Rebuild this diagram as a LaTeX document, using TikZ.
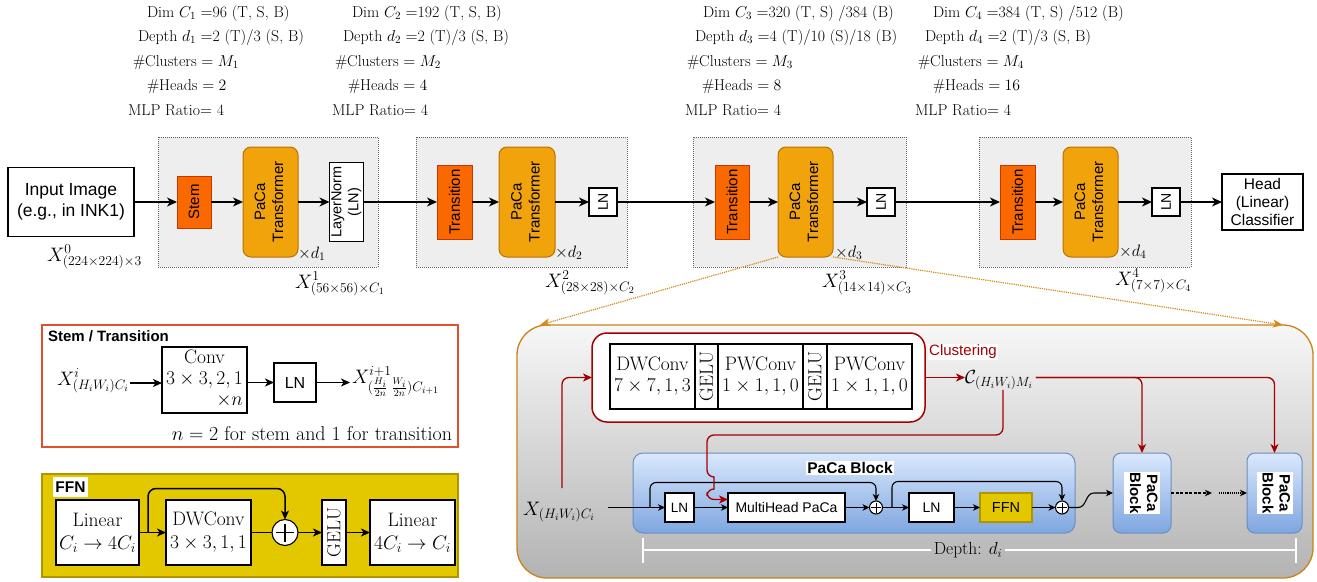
\documentclass[tikz,border=0pt]{standalone}
\usepackage{fix-cm}
\usepackage{fontspec}
\setsansfont{Liberation Sans}
\usepackage{graphicx}
\usetikzlibrary{arrows.meta,calc}

\definecolor{stemor}{HTML}{FA6800}
\definecolor{stembd}{HTML}{C73500}
\definecolor{pacaor}{HTML}{F0A30A}
\definecolor{pacabd}{HTML}{BD7000}
\definecolor{stagebg}{HTML}{EEEEEE}
\definecolor{stagebd}{HTML}{666666}
\definecolor{ffny}{HTML}{E3C800}
\definecolor{ffnbd}{HTML}{B09500}
\definecolor{clred}{HTML}{A50000}
\definecolor{stbd}{HTML}{E0502A}
\definecolor{panelbd}{HTML}{CC8218}
\definecolor{dotor}{HTML}{D58B16}
\definecolor{pantop}{HTML}{F7F7F7}
\definecolor{panbot}{HTML}{B3B3B3}
\definecolor{bltop}{HTML}{DAE8FC}
\definecolor{blbot}{HTML}{7EA6E0}
\definecolor{blbd}{HTML}{6C8EBF}

\newcommand\fsz[2]{\fontsize{#1}{#2}\selectfont}
\newcommand\vtext[1]{\rotatebox{90}{\begin{tabular}{@{}c@{}}#1\end{tabular}}}
\newcommand\vtextcw[1]{\rotatebox{-90}{\setlength\fboxsep{1pt}\colorbox{white}{\begin{tabular}{@{}c@{}}#1\end{tabular}}}}

\begin{document}
\begin{tikzpicture}[x=1pt,y=-1pt]
\tikzset{
  every node/.style={inner sep=0pt,outer sep=0pt},
  toptxt/.style={anchor=base west,font=\fsz{15.8}{19}},
  mathlbl/.style={anchor=base west,font=\fsz{19.5}{23}},
  timeslbl/.style={anchor=base west,font=\fsz{16.5}{19}},
  wbox/.style={draw=black,fill=white,line width=1.1pt},
  stagebox/.style={draw=stagebd,fill=stagebg,densely dotted,line width=1pt},
  stemblk/.style={draw=stembd,fill=stemor,line width=1pt,font=\sffamily\fsz{15}{18}},
  pacablk/.style={draw=pacabd,fill=pacaor,line width=1pt,rounded corners=8pt,font=\sffamily\fsz{15}{18}},
  arr/.style={line width=1.2pt,-{Stealth[length=10pt,width=9pt,inset=3pt]}},
  arrb/.style={line width=1.5pt,-{Stealth[length=9pt,width=8pt,inset=2.5pt]}},
  arrs/.style={line width=1.1pt,-{Stealth[length=7pt,width=6.5pt,inset=2pt]}},
  redarr/.style={draw=clred,line width=1.3pt,rounded corners=7pt,-{Stealth[length=9pt,width=8pt,inset=2.5pt]}},
  cell/.style={wbox,minimum height=65,align=center,font=\fsz{19.5}{21}},
  fcell/.style={wbox,minimum height=65,align=center,font=\fsz{19.5}{23}},
  bluebox/.style={draw=blbd,line width=1pt,top color=bltop,bottom color=blbot},
  plusnode/.style={circle,draw=black,fill=white,line width=1.1pt},
}
\useasboundingbox (0,0) rectangle (1317,581);

% ---------------- stage settings ----------------
\node[toptxt] (a1) at (147,17) {Dim $C_1 = $96 (T, S, B)};
\node[toptxt] (a2) at (138,41) {Depth $d_1 = $2 (T)/3 (S, B)};
\node[toptxt] (a3) at (133,66) {\#Clusters $= M_1$};
\node[toptxt] (a4) at (147,90) {\#Heads $= 2$};
\node[toptxt] (a5) at (128,115) {MLP Ratio$=$ 4};

\node[toptxt] (b1) at (352,17) {Dim $C_2 = $192 (T, S, B)};
\node[toptxt] (b2) at (343,41) {Depth $d_2 = $2 (T)/3 (S, B)};
\node[toptxt] (b3) at (335,66) {\#Clusters $= M_2$};
\node[toptxt] (b4) at (348,90) {\#Heads $= 4$};
\node[toptxt] (b5) at (332,115) {MLP Ratio$=$ 4};

\node[toptxt] (c1) at (703,17) {Dim $C_3 = $320 (T, S) /384 (B)};
\node[toptxt] (c2) at (695,41) {Depth $d_3 = $4 (T)/10 (S)/18 (B)};
\node[toptxt] (c3) at (687,66) {\#Clusters $= M_3$};
\node[toptxt] (c4) at (702,90) {\#Heads $= 8$};
\node[toptxt] (c5) at (685,115) {MLP Ratio$=$ 4};

\node[toptxt] (d1) at (933,17) {Dim $C_4 = $384 (T, S) /512 (B)};
\node[toptxt] (d2) at (925,41) {Depth $d_4 = $2 (T)/3 (S, B)};
\node[toptxt] (d3) at (918,66) {\#Clusters $= M_4$};
\node[toptxt] (d4) at (933,90) {\#Heads $= 16$};
\node[toptxt] (d5) at (915,115) {MLP Ratio$=$ 4};

% ---------------- backbone ----------------
\node[stagebox,minimum width=220,minimum height=130] (sg1) at (268,202) {};
\node[stagebox,minimum width=211,minimum height=130] (sg2) at (521.5,202) {};
\node[stagebox,minimum width=213,minimum height=130] (sg3) at (799.5,202) {};
\node[stagebox,minimum width=212,minimum height=130] (sg4) at (1085,202) {};

\node[wbox,minimum width=126,minimum height=69,align=center,font=\sffamily\fsz{17.5}{21}] (inp) at (71,202) {Input Image\\(e.g., in INK1)};

\node[stemblk,minimum width=34,minimum height=52] (stem) at (194,202) {\rotatebox{90}{Stem}};
\node[pacablk,minimum width=55,minimum height=110] (pc1) at (270.5,202) {\vtext{PaCa\\Transformer}};
\node[wbox,minimum width=33,minimum height=79,font=\sffamily\fsz{14.5}{17}] (lnA) at (346.5,202) {\vtext{LayerNorm\\(LN)}};

\node[stemblk,minimum width=35,minimum height=74] (tr2) at (454.5,202) {\rotatebox{90}{Transition}};
\node[pacablk,minimum width=56,minimum height=110] (pc2) at (527,202) {\vtext{PaCa\\Transformer}};
\node[wbox,minimum width=28,minimum height=28,font=\sffamily\fsz{14}{17}] (lnB) at (603,202) {\rotatebox{90}{LN}};

\node[stemblk,minimum width=34,minimum height=74] (tr3) at (732,202) {\rotatebox{90}{Transition}};
\node[pacablk,minimum width=55,minimum height=110] (pc3) at (805.5,202) {\vtext{PaCa\\Transformer}};
\node[wbox,minimum width=28,minimum height=28,font=\sffamily\fsz{14}{17}] (lnC) at (881,202) {\rotatebox{90}{LN}};

\node[stemblk,minimum width=35,minimum height=74] (tr4) at (1017.5,202) {\rotatebox{90}{Transition}};
\node[pacablk,minimum width=55,minimum height=110] (pc4) at (1090.5,202) {\vtext{PaCa\\Transformer}};
\node[wbox,minimum width=28,minimum height=28,font=\sffamily\fsz{14}{17}] (lnD) at (1166,202) {\rotatebox{90}{LN}};

\node[wbox,minimum width=81,minimum height=56,align=center,font=\sffamily\fsz{15.5}{18}] (head) at (1262.5,202) {Head\\(Linear)\\Classifier};

\draw[arr] (inp) -- (stem);
\draw[arr] (stem) -- (pc1);
\draw[arr] (pc1) -- (lnA);
\draw[arr] (lnA) -- (tr2);
\draw[arr] (tr2) -- (pc2);
\draw[arr] (pc2) -- (lnB);
\draw[arr] (lnB) -- (tr3);
\draw[arr] (tr3) -- (pc3);
\draw[arr] (pc3) -- (lnC);
\draw[arr] (lnC) -- (tr4);
\draw[arr] (tr4) -- (pc4);
\draw[arr] (pc4) -- (lnD);
\draw[arr] (lnD) -- (head);

\node[timeslbl] (m1) at (298,258) {$\times d_1$};
\node[timeslbl] (m2) at (555,257) {$\times d_2$};
\node[timeslbl] (m3) at (835,257) {$\times d_3$};
\node[timeslbl] (m4) at (1119,256) {$\times d_4$};

\node[mathlbl] (x0) at (47,261) {$X^{0}_{(224\times224)\times3}$};
\node[mathlbl] (x1) at (295,288) {$X^{1}_{(56\times56)\times C_1}$};
\node[mathlbl] (x2) at (545,287) {$X^{2}_{(28\times28)\times C_2}$};
\node[mathlbl] (x3) at (822,287) {$X^{3}_{(14\times14)\times C_3}$};
\node[mathlbl] (x4) at (1115,285) {$X^{4}_{(7\times7)\times C_4}$};

% ---------------- stem / transition detail ----------------
\node[draw=stbd,fill=white,line width=1.2pt,minimum width=416,minimum height=122] (stf) at (250,386) {};
\node[anchor=base west,font=\sffamily\bfseries\fsz{15}{18}] (stt) at (48,341) {Stem / Transition};
\node[mathlbl] (xi) at (57,385) {$X^{i}_{(H_iW_i)C_i}$};
\node[wbox,minimum width=85,minimum height=66,font=\fsz{19.5}{21}] (conv) at (204.5,380) {\begin{tabular}{@{}c@{}}Conv\\$3\times3,2,1$\\\multicolumn{1}{@{}r@{}}{$\times n$\hspace{6pt}}\end{tabular}};
\node[wbox,minimum width=42,minimum height=39,font=\sffamily\fsz{16}{19}] (sln) at (295,382.5) {LN};
\node[mathlbl] (xo) at (352,383) {$X^{i+1}_{(\frac{H_i}{2n}\;\frac{W_i}{2n})C_{i+1}}$};
\node[anchor=base east,font=\fsz{20}{24}] (nnote) at (452,440) {$n=2$ for stem and 1 for transition};
\draw[arrb] (xi.east |- sln.west) ++(1,0.5) coordinate (xis) -- (xis -| conv.west);
\draw[arrb] (conv.east |- sln.west) -- (sln.west);
\draw[arrb] (sln.east) -- ($(sln.east)+(34,0)$) coordinate (xoe);

% ---------------- FFN detail ----------------
\node[draw=ffnbd,fill=ffny,line width=1.2pt,minimum width=416,minimum height=103] (ffnp) at (250,525.5) {};
\node[fill=white,anchor=north west,minimum width=35,minimum height=20,font=\sffamily\bfseries\fsz{15.5}{18}] (ffnt) at (53,477) {FFN};
\node[fcell,minimum width=83] (lin1) at (97.5,532.5) {Linear\\$C_i\to 4C_i$};
\node[fcell,minimum width=85] (dw) at (208.5,532.5) {DWConv\\$3\times3,1,1$};
\node[plusnode,minimum size=26] (fplus) at (285,532.5) {};
\draw[line width=1.2pt] ($(fplus.center)+(-9,0)$) -- ($(fplus.center)+(9,0)$)
                        ($(fplus.center)+(0,-9)$) -- ($(fplus.center)+(0,9)$);
\node[wbox,minimum width=24,minimum height=65,font=\fsz{19}{21}] (fgelu) at (334,532.5) {\rotatebox{90}{GELU}};
\node[fcell,minimum width=85] (lin2) at (412.5,532.5) {Linear\\$4C_i\to C_i$};
\draw[arrb] (lin1) -- (dw);
\draw[line width=1.5pt] (dw) -- (fplus);
\draw[arrb] (fplus) -- (fgelu);
\draw[arrb] (fgelu) -- (lin2);
\draw[arrb,rounded corners=8pt] ($(lin1.east)+(9,0)$) -- ++(0,-44) -| (fplus.north);

% ---------------- PaCa transformer detail ----------------
\node[draw=panelbd,line width=1.3pt,rounded corners=30pt,top color=pantop,bottom color=panbot,minimum width=796,minimum height=253] (panel) at (915,451.5) {};
\draw[dotor,densely dotted,line width=1.2pt,-{Stealth[length=10pt,width=8pt,inset=2.5pt]}] (pc3.south west) -- ($(panel.north west)+(23,0)$);
\draw[dotor,densely dotted,line width=1.2pt,-{Stealth[length=10pt,width=8pt,inset=2.5pt]}] (pc3.south east) -- ($(panel.north east)+(-30,0)$);

% clustering module
\node[draw=clred,fill=white,line width=1.5pt,rounded corners=15pt,minimum width=333,minimum height=89] (clbox) at (758.5,377.5) {};
\node[cell,minimum width=85] (cw1) at (652.5,376.5) {DWConv\\$7\times7,1,3$};
\node[wbox,minimum width=23,minimum height=65,font=\fsz{19}{21}] (cg1) at (706.5,376.5) {\rotatebox{90}{GELU}};
\node[cell,minimum width=85] (cw2) at (760.5,376.5) {PWConv\\$1\times1,1,0$};
\node[wbox,minimum width=24,minimum height=65,font=\fsz{19}{21}] (cg2) at (815,376.5) {\rotatebox{90}{GELU}};
\node[cell,minimum width=85] (cw3) at (869.5,376.5) {PWConv\\$1\times1,1,0$};
\node[fill=white,text=clred,inner sep=1pt,font=\sffamily\fsz{15}{18}] (clt) at (963,352) {Clustering};
\node[anchor=base west,font=\fsz{19}{22}] (cm) at (965,383) {$\mathcal{C}_{(H_iW_i)M_i}$};

% PaCa block
\node[bluebox,rounded corners=10pt,minimum width=442,minimum height=80] (pb) at (854,493) {};
\node[fill=white,inner sep=1.5pt,font=\sffamily\bfseries\fsz{15.5}{18}] (pbt) at (850,468) {PaCa Block};
\node[mathlbl] (xin) at (523,515) {$X_{(H_iW_i)C_i}$};
\node[wbox,minimum width=29,minimum height=29,font=\sffamily\fsz{13.5}{16}] (bln1) at (679.5,507.5) {LN};
\node[wbox,minimum width=117,minimum height=29,font=\sffamily\fsz{14}{16}] (mh) at (786.5,507.5) {MultiHead PaCa};
\node[plusnode,minimum size=13] (o1) at (876,507.5) {};
\node[wbox,minimum width=45,minimum height=29,font=\sffamily\fsz{14}{16}] (bln2) at (931.5,507.5) {LN};
\node[draw=ffnbd,fill=ffny,line width=1.1pt,minimum width=52,minimum height=29,font=\sffamily\fsz{14.5}{16}] (bffn) at (1006,507.5) {FFN};
\node[plusnode,minimum size=13] (o2) at (1062,507.5) {};
\foreach \o in {o1,o2}{
  \draw[line width=1pt] ($(\o.center)+(-5,0)$) -- ($(\o.center)+(5,0)$)
                        ($(\o.center)+(0,-5)$) -- ($(\o.center)+(0,5)$);
}
\node[bluebox,rounded corners=8pt,minimum width=58,minimum height=80,font=\sffamily\bfseries\fsz{15}{17}] (pb2) at (1142,493) {\vtextcw{PaCa\\Block}};
\node[bluebox,rounded corners=8pt,minimum width=55,minimum height=80,font=\sffamily\bfseries\fsz{15}{17}] (pb3) at (1274.5,493) {\vtextcw{PaCa\\Block}};

\coordinate (xst) at (608,507.5);
\coordinate (sk1) at (650,507.5);
\coordinate (sk2) at (892,507.5);
\draw[arrs] (xst) -- (bln1);
\draw[arrs] (bln1) -- (mh);
\draw[arrs] (mh) -- (o1);
\draw[arrs] (o1) -- (bln2);
\draw[arrs] (bln2) -- (bffn);
\draw[arrs] (bffn) -- (o2);
\draw[arrs,rounded corners=6pt] (sk1) -- ++(0,-25) -| (o1.north);
\draw[arrs,rounded corners=6pt] (sk2) -- ++(0,-26) -| (o2.north);
\coordinate (cv1) at (1078,507.5);
\coordinate (cv2) at (1094,493);
\draw[arrs] (o2.east) -- (cv1) .. controls (1087,507.5) and (1085,493) .. (cv2) -- (pb2.west);
\coordinate (dd1) at (1212,493);
\coordinate (dd2) at (1219,493);
\draw[arrs,dash pattern=on 3pt off 1.5pt] (pb2.east) -- (dd1);
\draw[arrs,densely dotted] (dd2) -- (pb3.west);

% clustering connections
\coordinate (xr) at (562,488);
\draw[redarr] (xr) |- (clbox.west);
\draw[redarr] (clbox.east) -- (clbox.east -| cm.west);
\coordinate (cmo) at ($(clbox.east -| cm.east)+(3,0)$);
\draw[redarr] (cmo) -| (pb2.north);
\draw[redarr] (cmo) -| (pb3.north);
\coordinate (rb) at (707,435);
\draw[redarr] ($(cm.south)+(4,0)$) |- (rb) -- (707,477) .. controls (714,477) and (714,489) .. (707,489) |- ($(mh.west)+(0,-8)$);

% depth span
\coordinate (dl) at (643,550);
\coordinate (dr) at (1296,550);
\node[font=\fsz{17.5}{21}] (dep) at (968,550) {Depth: $d_i$};
\draw[white,line width=1.5pt] (dl) -- ($(dep.west)+(-3,0)$) ($(dep.east)+(3,0)$) -- (dr);
\draw[white,line width=1.5pt] ($(dl)+(0,-12)$) -- ($(dl)+(0,13)$) ($(dr)+(0,-12)$) -- ($(dr)+(0,13)$);
\end{tikzpicture}
\end{document}
